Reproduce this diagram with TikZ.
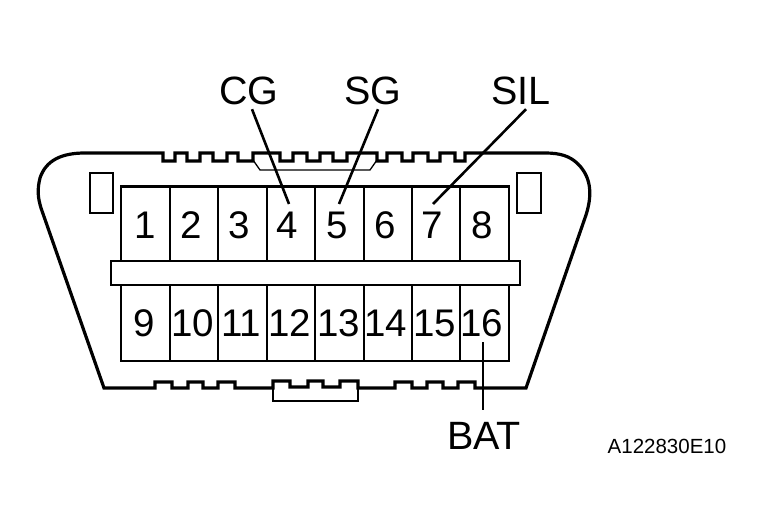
\documentclass[tikz,border=0pt]{standalone}
\usepackage{fontspec}
\setmainfont{Liberation Sans}
\tikzset{
  cell/.style={draw=black, line width=1.6pt, minimum width=48.5pt, inner sep=0pt},
  pinnum/.style={inner sep=0pt, text height=28pt, text depth=0pt, font=\fontsize{38.5}{38}\selectfont},
  tag/.style={inner sep=0pt, text height=28pt, text depth=0pt, font=\fontsize{39.5}{38}\selectfont},
  leader/.style={line width=2.6pt},
  shell/.style={line width=3.2pt, line join=miter},
}
\begin{document}
\begin{tikzpicture}[x=1pt, y=-1pt]
\useasboundingbox (0,0) rectangle (764,529);
% outer shell with the keys on top and bottom
\draw[shell] (104,388) -- (155,388) -- (155,382) -- (172,382) -- (172,388) -- (188,388) -- (188,382)
  -- (203,382) -- (203,388) -- (218,388) -- (218,382) -- (235,382) -- (235,388) -- (273,388)
  -- (273,381) -- (290,381) -- (290,387) -- (308,387) -- (308,381) -- (323,381) -- (323,387)
  -- (340,387) -- (340,381) -- (358,381) -- (358,388) -- (395,388) -- (395,382) -- (412,382)
  -- (412,388) -- (427,388) -- (427,382) -- (443,382) -- (443,388) -- (458,388) -- (458,382)
  -- (475,382) -- (475,388) -- (526,388)
  -- (586,215) .. controls (592,196) and (592,178) .. (578,164) .. controls (570,156) and (560,153) .. (545,153)
  -- (465,153) -- (465,161) -- (455,161) -- (455,153) -- (440,153) -- (440,161) -- (428,161)
  -- (428,153) -- (413,153) -- (413,161) -- (402,161) -- (402,153) -- (387,153) -- (387,161)
  -- (377,161) -- (377,153) -- (347,153) -- (347,161) -- (333,161) -- (333,153) -- (320,153)
  -- (320,161) -- (307,161) -- (307,153) -- (293,153) -- (293,161) -- (280,161) -- (280,153)
  -- (253,153) -- (253,161) -- (238,161) -- (238,153) -- (227,153) -- (227,161) -- (213,161)
  -- (213,153) -- (200,153) -- (200,161) -- (187,161) -- (187,153) -- (175,153) -- (175,161)
  -- (163,161) -- (163,153) -- (85,153) .. controls (62,153) and (46,160) .. (40,178)
  .. controls (37,190) and (38,198) .. (41,208) -- cycle;
\draw[line width=1.3pt] (253,160) -- (260,170) -- (370,170) -- (377,160);
\draw[line width=2.8pt] (273,381) -- (273,401) -- (358,401) -- (358,381);
% side tabs
\node[draw, line width=1.3pt, minimum width=23pt, minimum height=40pt, inner sep=0pt] (tabl) at (101.5,193) {};
\node[draw, line width=1.6pt, minimum width=24pt, minimum height=40pt, inner sep=0pt] (tabr) at (529,193) {};
% pins
\foreach \n/\x/\t in {1/145.5/145, 2/194/191, 3/242.5/239, 4/291/287, 5/339.5/337, 6/388/385, 7/436/432, 8/484.5/482} {
  \node[cell, minimum height=74pt] (c\n) at (\x,224) {};
  \node[pinnum] (n\n) at (\t,225) {\n};
}
\foreach \n/\x/\t in {9/145.5/144, 10/194/193, 11/242.5/241, 12/291/290, 13/339.5/339, 14/388/386, 15/436/435, 16/484.5/482} {
  \node[cell, minimum height=76pt] (c\n) at (\x,323) {};
  \node[pinnum] (n\n) at (\t,323) {\n};
}
\draw[line width=2.8pt] (c1.north west) -- (c8.north east);
\node[draw, line width=1.6pt, minimum width=409pt, minimum height=24pt, inner sep=0pt] (bar) at (315.5,273) {};
% labels
\node[tag] (cg) at (249,91) {CG};
\node[tag] (sg) at (373,91) {SG};
\node[tag] (sil) at (521,91) {SIL};
\node[tag] (bat) at (484,436) {BAT};
\node[inner sep=0pt, font=\fontsize{20.5}{20}\selectfont] (code) at (667,446) {A122830E10};
\coordinate (p4) at (289,204);
\coordinate (p5) at (339,204);
\coordinate (p7) at (433,204);
\coordinate (p16) at (483,342);
\draw[leader] (cg.south) ++(3,4) coordinate (cgs) (cgs) -- (p4);
\draw[leader] (sg.south) ++(5,4) coordinate (sgs) (sgs) -- (p5);
\draw[leader] (sil.south) ++(5,4) coordinate (sils) (sils) -- (p7);
\draw[leader] (bat.north) ++(-1,-12) coordinate (batn) (batn) -- (p16);
\end{tikzpicture}
\end{document}
